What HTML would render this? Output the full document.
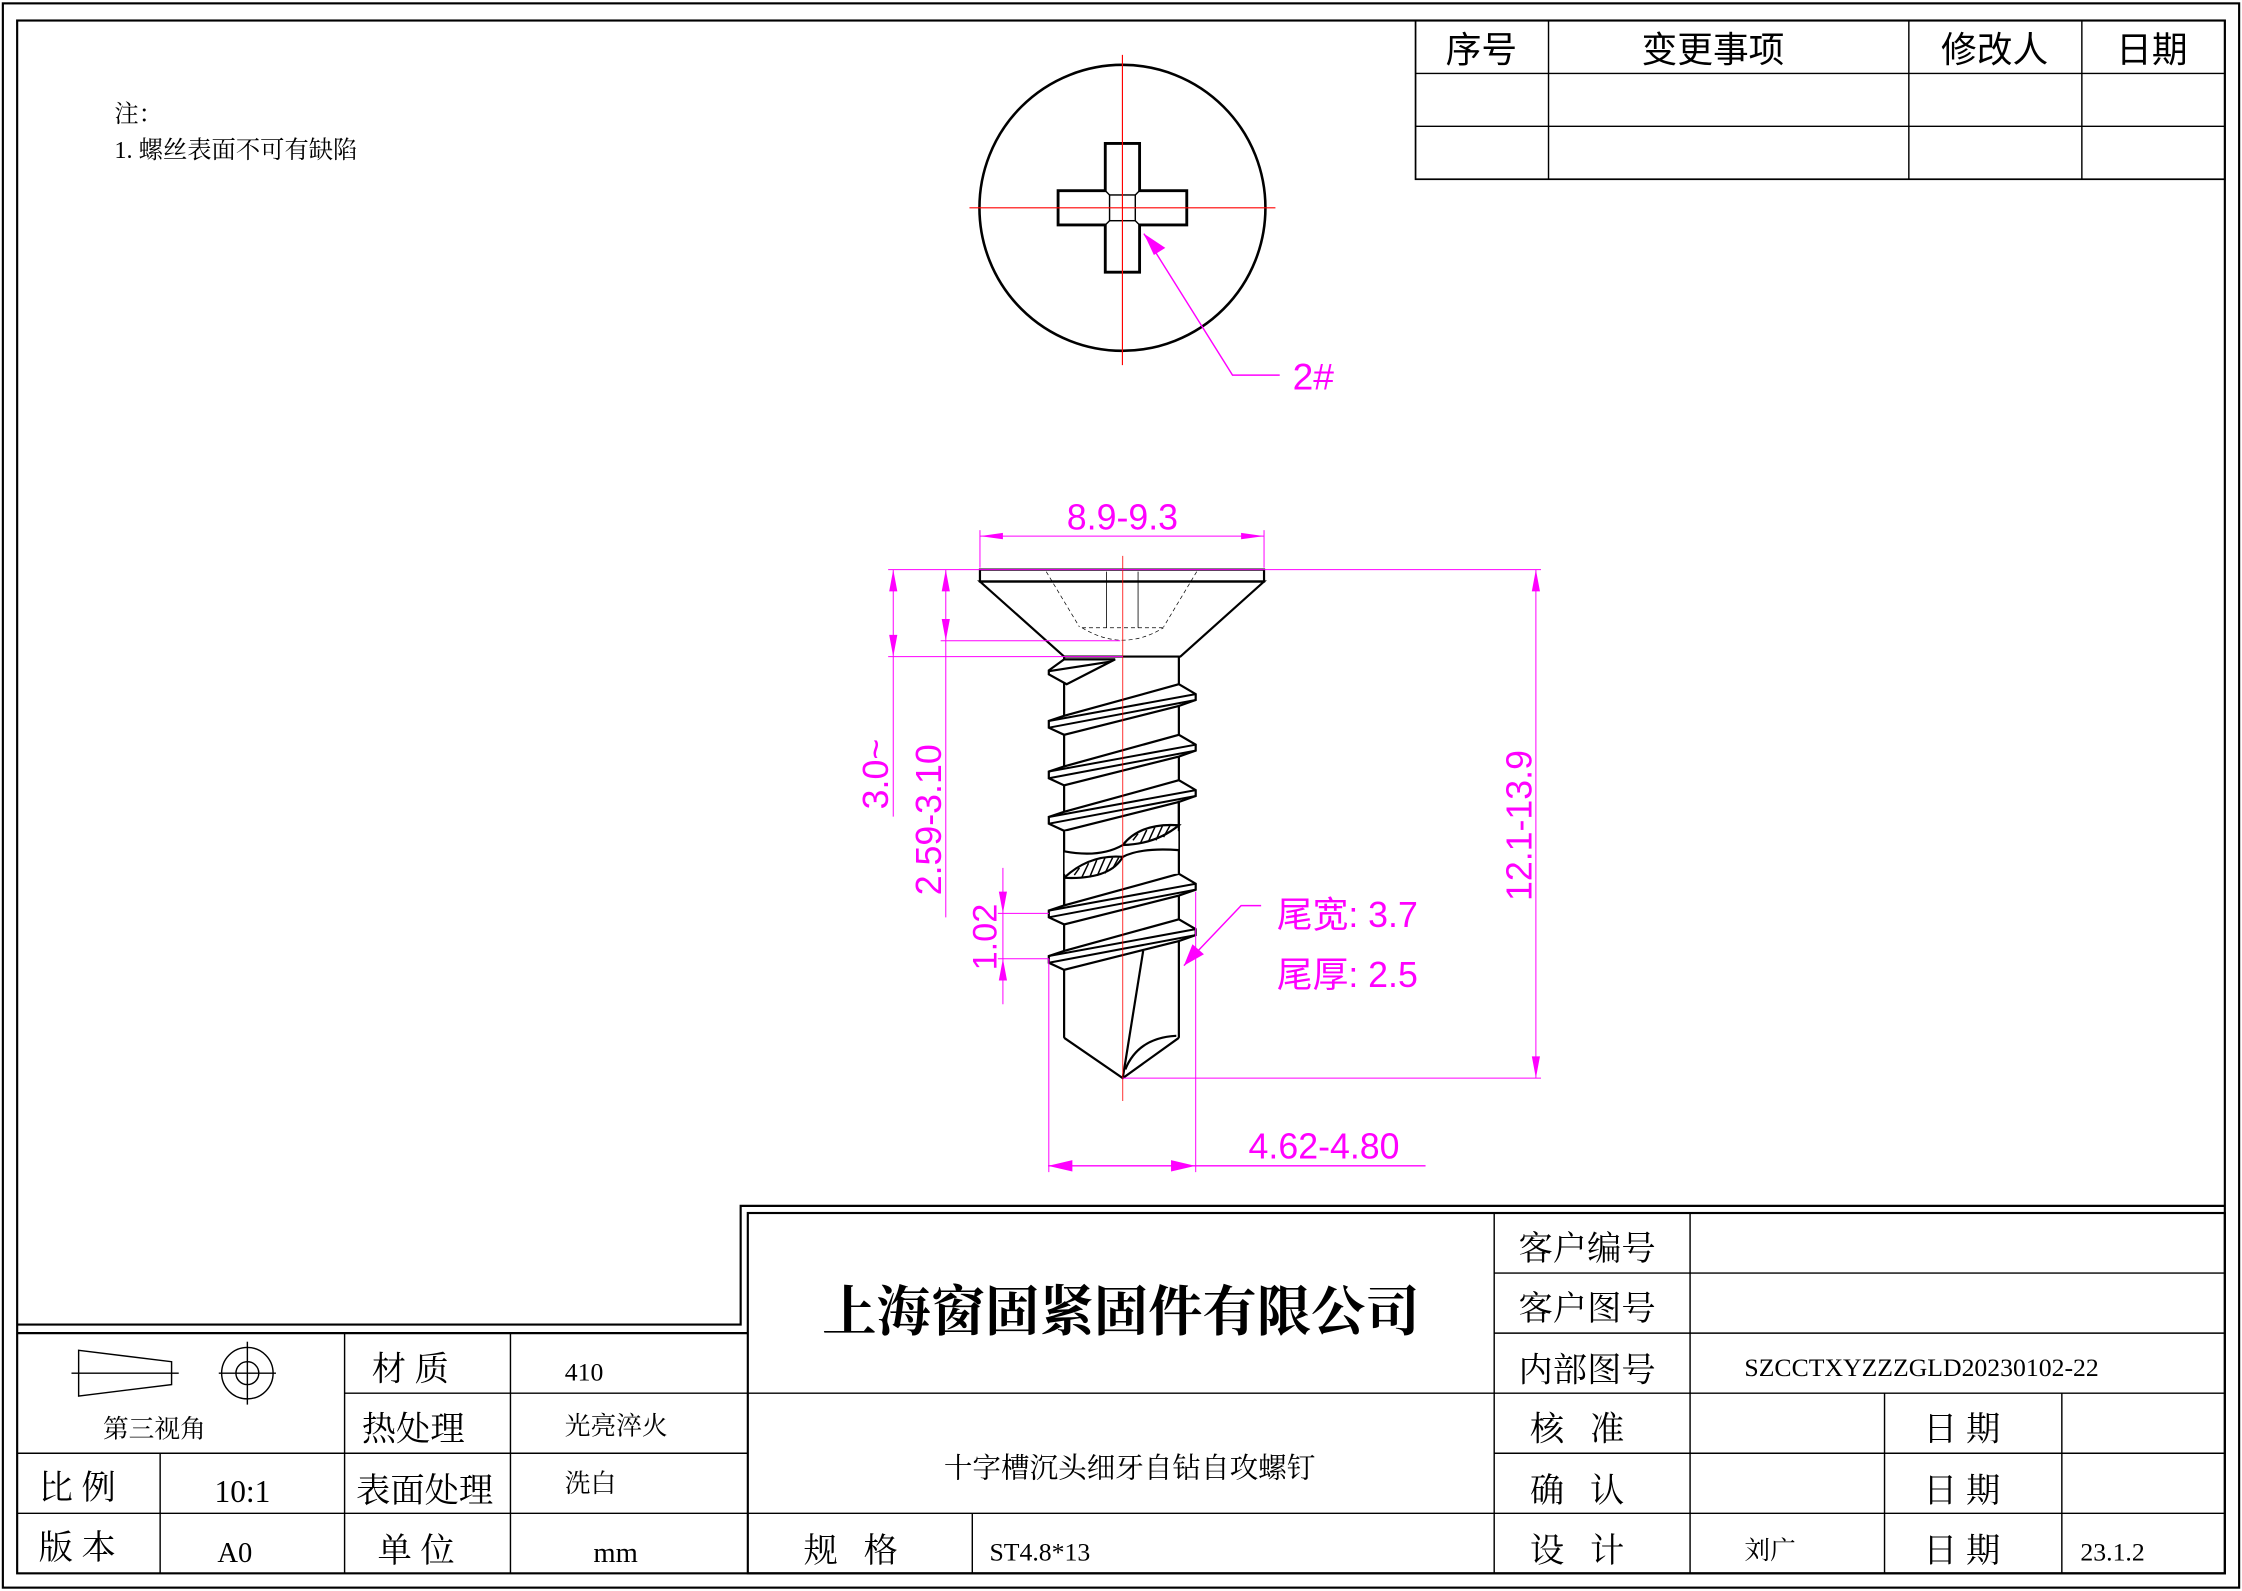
<!DOCTYPE html>
<html><head><meta charset="utf-8"><style>
html,body{margin:0;padding:0;background:#fff;}
svg{display:block;}
.t{font-family:"Liberation Serif","Noto Serif CJK SC",serif;fill:#000;}
.s{font-family:"Liberation Sans","Noto Sans CJK SC",sans-serif;fill:#000;}
.m{font-family:"Liberation Sans","Noto Sans CJK SC",sans-serif;fill:#ff00ff;}
</style></head><body>
<svg width="2242" height="1591" viewBox="0 0 1568 1112" xmlns="http://www.w3.org/2000/svg">
<rect x="0" y="0" width="1568" height="1112" fill="#fff"/>
<g fill="none" stroke="#000">
<rect x="2" y="2" width="1564" height="1108" stroke-width="1.5"/>
<rect x="12" y="14" width="1544" height="1086" stroke-width="1.5"/>
<!-- top-right table -->
<rect x="990" y="14" width="566" height="111" stroke-width="1.2"/>
<line x1="990" y1="51" x2="1556" y2="51"/><line x1="990" y1="88" x2="1556" y2="88"/>
<line x1="1083" y1="14" x2="1083" y2="125"/><line x1="1335" y1="14" x2="1335" y2="125"/><line x1="1456" y1="14" x2="1456" y2="125"/>
<!-- title block frame -->
<polyline points="12,926 518,926 518,843 1556,843" stroke-width="1.5"/>
<rect x="523" y="848" width="1033" height="252" stroke-width="1.5"/>
<line x1="12" y1="932" x2="523" y2="932" stroke-width="1.5"/>
<line x1="241" y1="974" x2="523" y2="974"/>
<line x1="12" y1="1016" x2="523" y2="1016"/>
<line x1="12" y1="1058" x2="523" y2="1058"/>
<line x1="112" y1="1016" x2="112" y2="1100"/>
<line x1="241" y1="932" x2="241" y2="1100"/>
<line x1="357" y1="932" x2="357" y2="1100"/>
<line x1="523" y1="974" x2="1045" y2="974"/>
<line x1="523" y1="1058" x2="1045" y2="1058"/>
<line x1="680" y1="1058" x2="680" y2="1100"/>
<line x1="1045" y1="848" x2="1045" y2="1100"/>
<line x1="1182" y1="848" x2="1182" y2="1100"/>
<line x1="1318" y1="974" x2="1318" y2="1100"/>
<line x1="1442" y1="974" x2="1442" y2="1100"/>
<line x1="1045" y1="890" x2="1556" y2="890"/><line x1="1045" y1="932" x2="1556" y2="932"/>
<line x1="1045" y1="974" x2="1556" y2="974"/><line x1="1045" y1="1016" x2="1556" y2="1016"/>
<line x1="1045" y1="1058" x2="1556" y2="1058"/>
<!-- third angle symbol -->
<polygon points="55,944 120,952 120,968 55,976"/>
<line x1="50" y1="960" x2="125" y2="960"/>
<circle cx="173" cy="960" r="18"/><circle cx="173" cy="960" r="8"/>
<line x1="153" y1="960" x2="193" y2="960"/><line x1="173" y1="938" x2="173" y2="982"/>
<!-- top view -->
<circle cx="785" cy="145" r="100" stroke-width="1.8"/>
<polygon points="773,100 797,100 797,133 830,133 830,157 797,157 797,190 773,190 773,157 740,157 740,133 773,133" stroke-width="2"/>
<rect x="776" y="136" width="18" height="18" stroke-width="1"/>
<line x1="776" y1="136" x2="773" y2="133" stroke-width="1"/><line x1="794" y1="136" x2="797" y2="133" stroke-width="1"/>
<line x1="776" y1="154" x2="773" y2="157" stroke-width="1"/><line x1="794" y1="154" x2="797" y2="157" stroke-width="1"/>
</g>
<g stroke="#ff0000" stroke-width="0.8">
<line x1="678" y1="145" x2="892" y2="145"/><line x1="785" y1="38" x2="785" y2="255"/>
</g>
<g stroke="#ff00ff" fill="none" stroke-width="1">
<polyline points="800,163 862,262 895,262"/>
</g>
<polygon points="800,163 815,173 807,178" fill="#ff00ff"/>
<text class="m" x="904" y="272" font-size="26">2#</text>

<!-- side view, drawn in zoom coordinates -->
<g transform="translate(594.4,349.7) scale(0.3567,0.2763)">
<g fill="none" stroke="#000" stroke-width="2.2" vector-effect="non-scaling-stroke">
<polygon points="255,205 812,205 648,395 420,395" fill="#fff" vector-effect="non-scaling-stroke"/>
<rect x="255" y="175" width="557" height="30" vector-effect="non-scaling-stroke"/>
<line x1="420" y1="395" x2="420" y2="1360" vector-effect="non-scaling-stroke"/>
<line x1="645" y1="395" x2="645" y2="1360" vector-effect="non-scaling-stroke"/>
<polyline points="420,1360 535,1462 645,1360" vector-effect="non-scaling-stroke"/>
<line x1="575" y1="1140" x2="535" y2="1462" vector-effect="non-scaling-stroke"/>
<path d="M540,1440 Q565,1360 640,1355" vector-effect="non-scaling-stroke"/>
<polygon points="420,402 520,402 425,465 390,440 390,430" fill="#fff" vector-effect="non-scaling-stroke"/>
<line x1="390" y1="432" x2="510" y2="408" vector-effect="non-scaling-stroke"/>
</g>
<g fill="#fff" stroke="#000" stroke-width="2.2">
<polygon vector-effect="non-scaling-stroke" points="420,545 645,465 678,490 678,505 645,520 420,593 390,575 390,558"/>
<polygon vector-effect="non-scaling-stroke" points="420,673 645,593 678,618 678,633 645,648 420,721 390,703 390,686"/>
<polygon vector-effect="non-scaling-stroke" points="420,788 645,708 678,733 678,748 645,763 420,836 390,818 390,801"/>
<polygon vector-effect="non-scaling-stroke" points="420,1025 645,945 678,970 678,985 645,1000 420,1073 390,1055 390,1038"/>
<polygon vector-effect="non-scaling-stroke" points="420,1140 645,1060 678,1085 678,1100 645,1115 420,1188 390,1170 390,1153"/>
</g>
<g stroke="#000" stroke-width="2" fill="none">
<line vector-effect="non-scaling-stroke" x1="390" y1="558" x2="678" y2="490"/><line vector-effect="non-scaling-stroke" x1="390" y1="575" x2="678" y2="505"/>
<line vector-effect="non-scaling-stroke" x1="390" y1="686" x2="678" y2="618"/><line vector-effect="non-scaling-stroke" x1="390" y1="703" x2="678" y2="633"/>
<line vector-effect="non-scaling-stroke" x1="390" y1="801" x2="678" y2="733"/><line vector-effect="non-scaling-stroke" x1="390" y1="818" x2="678" y2="748"/>
<line vector-effect="non-scaling-stroke" x1="390" y1="1038" x2="678" y2="970"/><line vector-effect="non-scaling-stroke" x1="390" y1="1055" x2="678" y2="985"/>
<line vector-effect="non-scaling-stroke" x1="390" y1="1153" x2="678" y2="1085"/><line vector-effect="non-scaling-stroke" x1="390" y1="1170" x2="678" y2="1100"/>
</g>
<!-- break section -->
<rect x="421" y="837" width="223" height="108" fill="#fff"/>
<g stroke="#000" stroke-width="2.2" fill="none">
<line vector-effect="non-scaling-stroke" x1="420" y1="836" x2="420" y2="888"/>
<line vector-effect="non-scaling-stroke" x1="645" y1="760" x2="645" y2="822"/>
<line vector-effect="non-scaling-stroke" x1="645" y1="885" x2="645" y2="945"/>
<line vector-effect="non-scaling-stroke" x1="420" y1="955" x2="420" y2="1025"/>
<path vector-effect="non-scaling-stroke" d="M420,888 Q490,905 535,872 Q570,815 645,822 Q600,870 535,872"/>
<path vector-effect="non-scaling-stroke" d="M420,955 Q470,895 535,902 Q570,878 645,885 M420,955 Q510,960 535,902"/>
</g>
<g stroke="#000" stroke-width="1.5">
<line vector-effect="non-scaling-stroke" x1="555" y1="860" x2="565" y2="843"/>
<line vector-effect="non-scaling-stroke" x1="570" y1="866" x2="582" y2="834"/>
<line vector-effect="non-scaling-stroke" x1="585" y1="864" x2="598" y2="827"/>
<line vector-effect="non-scaling-stroke" x1="600" y1="860" x2="613" y2="823"/>
<line vector-effect="non-scaling-stroke" x1="615" y1="852" x2="628" y2="822"/>
<line vector-effect="non-scaling-stroke" x1="440" y1="948" x2="450" y2="930"/>
<line vector-effect="non-scaling-stroke" x1="455" y1="953" x2="468" y2="918"/>
<line vector-effect="non-scaling-stroke" x1="470" y1="954" x2="484" y2="910"/>
<line vector-effect="non-scaling-stroke" x1="485" y1="950" x2="500" y2="905"/>
<line vector-effect="non-scaling-stroke" x1="500" y1="944" x2="515" y2="904"/>
<line vector-effect="non-scaling-stroke" x1="515" y1="932" x2="527" y2="904"/>
</g>
<!-- hidden lines in head -->
<g stroke="#000" stroke-width="0.7" fill="none" stroke-dasharray="4,3">
<path vector-effect="non-scaling-stroke" d="M385,180 L450,320 M680,180 L615,320"/>
<line vector-effect="non-scaling-stroke" x1="455" y1="322" x2="615" y2="322"/>
<path vector-effect="non-scaling-stroke" d="M455,322 Q535,385 615,322"/>
</g>
<g stroke="#000" stroke-width="0.8">
<line vector-effect="non-scaling-stroke" x1="503" y1="180" x2="503" y2="322"/>
<line vector-effect="non-scaling-stroke" x1="565" y1="180" x2="565" y2="322"/>
</g>
<line vector-effect="non-scaling-stroke" x1="535" y1="140" x2="535" y2="1520" stroke="#ff0000" stroke-width="0.8"/>
<!-- dimensions -->
<g stroke="#ff00ff" stroke-width="1" fill="none">
<line vector-effect="non-scaling-stroke" x1="255" y1="90" x2="812" y2="90"/>
<line vector-effect="non-scaling-stroke" x1="255" y1="75" x2="255" y2="170"/>
<line vector-effect="non-scaling-stroke" x1="812" y1="75" x2="812" y2="170"/>
<line vector-effect="non-scaling-stroke" x1="75" y1="175" x2="1355" y2="175"/>
<line vector-effect="non-scaling-stroke" x1="535" y1="1462" x2="1355" y2="1462"/>
<line vector-effect="non-scaling-stroke" x1="1345" y1="175" x2="1345" y2="1462"/>
<line vector-effect="non-scaling-stroke" x1="75" y1="395" x2="535" y2="395"/>
<line vector-effect="non-scaling-stroke" x1="85" y1="175" x2="85" y2="800"/>
<line vector-effect="non-scaling-stroke" x1="178" y1="355" x2="530" y2="355"/>
<line vector-effect="non-scaling-stroke" x1="188" y1="175" x2="188" y2="1055"/>
<line vector-effect="non-scaling-stroke" x1="290" y1="1045" x2="390" y2="1045"/>
<line vector-effect="non-scaling-stroke" x1="290" y1="1160" x2="390" y2="1160"/>
<line vector-effect="non-scaling-stroke" x1="300" y1="930" x2="300" y2="1275"/>
<line vector-effect="non-scaling-stroke" x1="390" y1="1160" x2="390" y2="1700"/>
<line vector-effect="non-scaling-stroke" x1="678" y1="990" x2="678" y2="1700"/>
</g>
<g fill="#ff00ff">
<polygon points="255,90 300,82 300,98"/><polygon points="812,90 767,82 767,98"/>
<polygon points="1345,175 1337,230 1353,230"/><polygon points="1345,1462 1337,1407 1353,1407"/>
<polygon points="85,175 77,230 93,230"/><polygon points="85,395 77,340 93,340"/>
<polygon points="188,175 180,230 196,230"/><polygon points="188,355 180,300 196,300"/>
<polygon points="300,1045 292,990 308,990"/><polygon points="300,1160 292,1215 308,1215"/>
</g>
</g>
<!-- bottom width dim -->
<g stroke="#ff00ff" stroke-width="1" fill="none">
<line x1="733" y1="815" x2="997" y2="815"/>
<polyline points="882,633 868,633 828,675"/>
</g>
<g fill="#ff00ff">
<polygon points="733,815 750,811 750,819"/><polygon points="836,815 819,811 819,819"/>
<polygon points="828,675 834,660 842,667"/>
</g>
<text class="m" x="785" y="370" font-size="25" text-anchor="middle">8.9-9.3</text>
<text class="m" x="926" y="810" font-size="25" text-anchor="middle">4.62-4.80</text>
<text class="m" x="893" y="648" font-size="25">尾宽: 3.7</text>
<text class="m" x="893" y="690" font-size="25">尾厚: 2.5</text>
<text class="m" font-size="25" text-anchor="middle" transform="translate(1071,577) rotate(-90)">12.1-13.9</text>
<text class="m" font-size="25" text-anchor="middle" transform="translate(621,541) rotate(-90)">3.0~</text>
<text class="m" font-size="25" text-anchor="middle" transform="translate(658,573) rotate(-90)">2.59-3.10</text>
<text class="m" font-size="24" text-anchor="middle" transform="translate(697,655) rotate(-90)">1.02</text>

<!-- notes -->
<text class="t" x="80" y="85" font-size="17">注：</text>
<text class="t" x="80" y="110" font-size="17">1. 螺丝表面不可有缺陷</text>

<!-- top table text -->
<g class="s" font-size="25" text-anchor="middle">
<text x="1036" y="43">序号</text><text x="1198" y="43">变更事项</text>
<text x="1395" y="43">修改人</text><text x="1505" y="43">日期</text>
</g>
<!-- title block text -->
<text class="t" x="784" y="930" font-size="38" font-weight="bold" text-anchor="middle">上海窗固紧固件有限公司</text>
<text class="t" x="790" y="1033" font-size="20" text-anchor="middle">十字槽沉头细牙自钻自攻螺钉</text>
<g class="t" font-size="24">
<text x="260" y="965">材 质</text><text x="253" y="1007">热处理</text>
<text x="249" y="1050">表面处理</text><text x="264" y="1092">单 位</text>
<text x="27" y="1048">比 例</text><text x="27" y="1090">版 本</text>
<text x="562" y="1092">规&#160;&#160;&#160;格</text>
<text x="1062" y="881">客户编号</text><text x="1062" y="923">客户图号</text>
<text x="1062" y="966">内部图号</text>
<text x="1070" y="1007">核&#160;&#160;&#160;准</text><text x="1070" y="1050">确&#160;&#160;&#160;认</text>
<text x="1070" y="1092">设&#160;&#160;&#160;计</text>
<text x="1345" y="1007">日 期</text><text x="1345" y="1050">日 期</text><text x="1345" y="1092">日 期</text>
</g>
<g class="t" font-size="18">
<text x="72" y="1005">第三视角</text>
<text x="395" y="965">410</text><text x="395" y="1003">光亮淬火</text><text x="395" y="1043">洗白</text>
<text x="150" y="1050" font-size="22">10:1</text><text x="152" y="1092" font-size="20">A0</text>
<text x="415" y="1092" font-size="20">mm</text>
<text x="692" y="1091">ST4.8*13</text>
<text x="1220" y="962">SZCCTXYZZZGLD20230102-22</text>
<text x="1220" y="1090">刘广</text>
<text x="1455" y="1091">23.1.2</text>
</g>
</svg>
</body></html>
